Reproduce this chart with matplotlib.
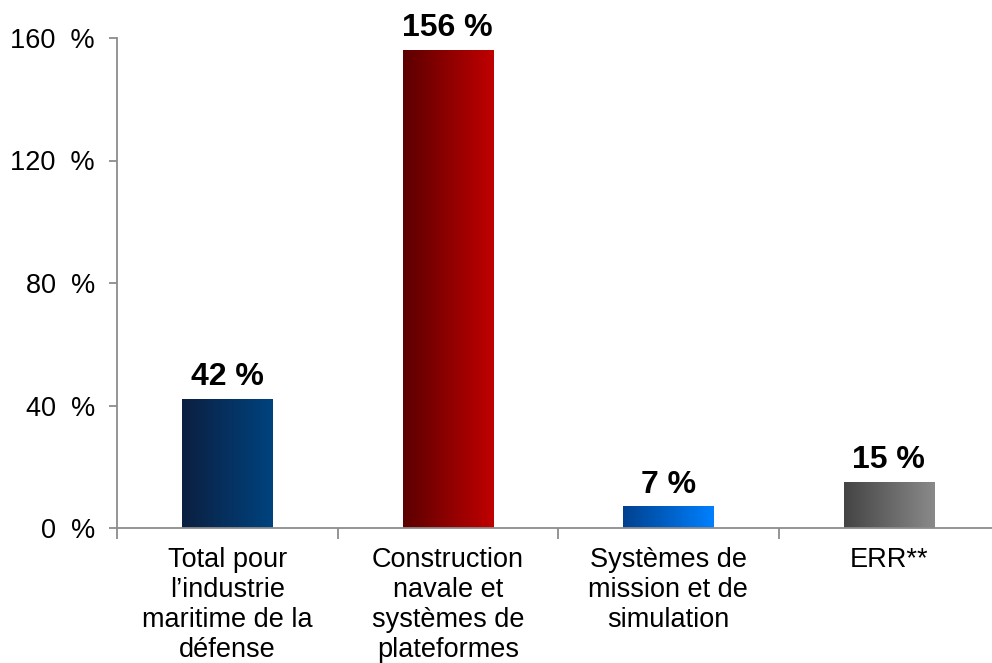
import matplotlib
matplotlib.use("Agg")
import matplotlib.pyplot as plt
import numpy as np
from matplotlib.colors import LinearSegmentedColormap

categories = ["Total pour\nl\u2019industrie\nmaritime de la\ndéfense",
              "Construction\nnavale et\nsystèmes de\nplateformes",
              "Systèmes de\nmission et de\nsimulation",
              "ERR**"]
values = [42, 156, 7, 15]
value_labels = ["42 %", "156 %", "7 %", "15 %"]
yticks = [0, 40, 80, 120, 160]
ytick_labels = ["0  %", "40  %", "80  %", "120  %", "160  %"]
gradients = [("#0b1f40", "#00437f"),
             ("#5c0000", "#c00000"),
             ("#00418f", "#0080ff"),
             ("#444444", "#8a8a8a")]

plt.rcParams['font.family'] = ['Liberation Sans', 'DejaVu Sans']

fig = plt.figure(figsize=(9.92, 6.63), dpi=100)
ax = fig.add_axes([117/992, 135/663, 882/992, 490/663])

ax.set_xlim(-0.5, 3.5)
ax.set_ylim(0, 160)
bw = 0.41
grad = np.linspace(0, 1, 256).reshape(1, -1)
for i, (v, (c0, c1)) in enumerate(zip(values, gradients)):
    cmap = LinearSegmentedColormap.from_list(f"g{i}", [c0, c1])
    ax.imshow(grad, extent=[i - bw/2, i + bw/2, 0, v], aspect='auto',
              cmap=cmap, interpolation='bilinear', zorder=2)
    ax.text(i, v + 2.3, value_labels[i], ha='center', va='bottom',
            fontsize=23, fontweight='bold', color='black')

ax.set_xlim(-0.5, 3.5)
ax.set_ylim(0, 160)

for s in ['top', 'right']:
    ax.spines[s].set_visible(False)
for s in ['left', 'bottom']:
    ax.spines[s].set_color('#8c8c8c')
    ax.spines[s].set_linewidth(1.3)

ax.set_yticks(yticks)
ax.set_yticklabels(ytick_labels, fontsize=19.5)
ax.tick_params(axis='y', length=6, width=1.3, color='#8c8c8c', pad=10)

ax.set_xticks(range(len(categories)))
ax.set_xticklabels(categories, fontsize=19.5, linespacing=1.2)
ax.tick_params(axis='x', which='major', length=0, pad=14)
ax.set_xticks([-0.5, 0.5, 1.5, 2.5, 3.5], minor=True)
ax.tick_params(axis='x', which='minor', length=8, width=1.3, color='#8c8c8c')

fig.savefig("out.png", dpi=100)
